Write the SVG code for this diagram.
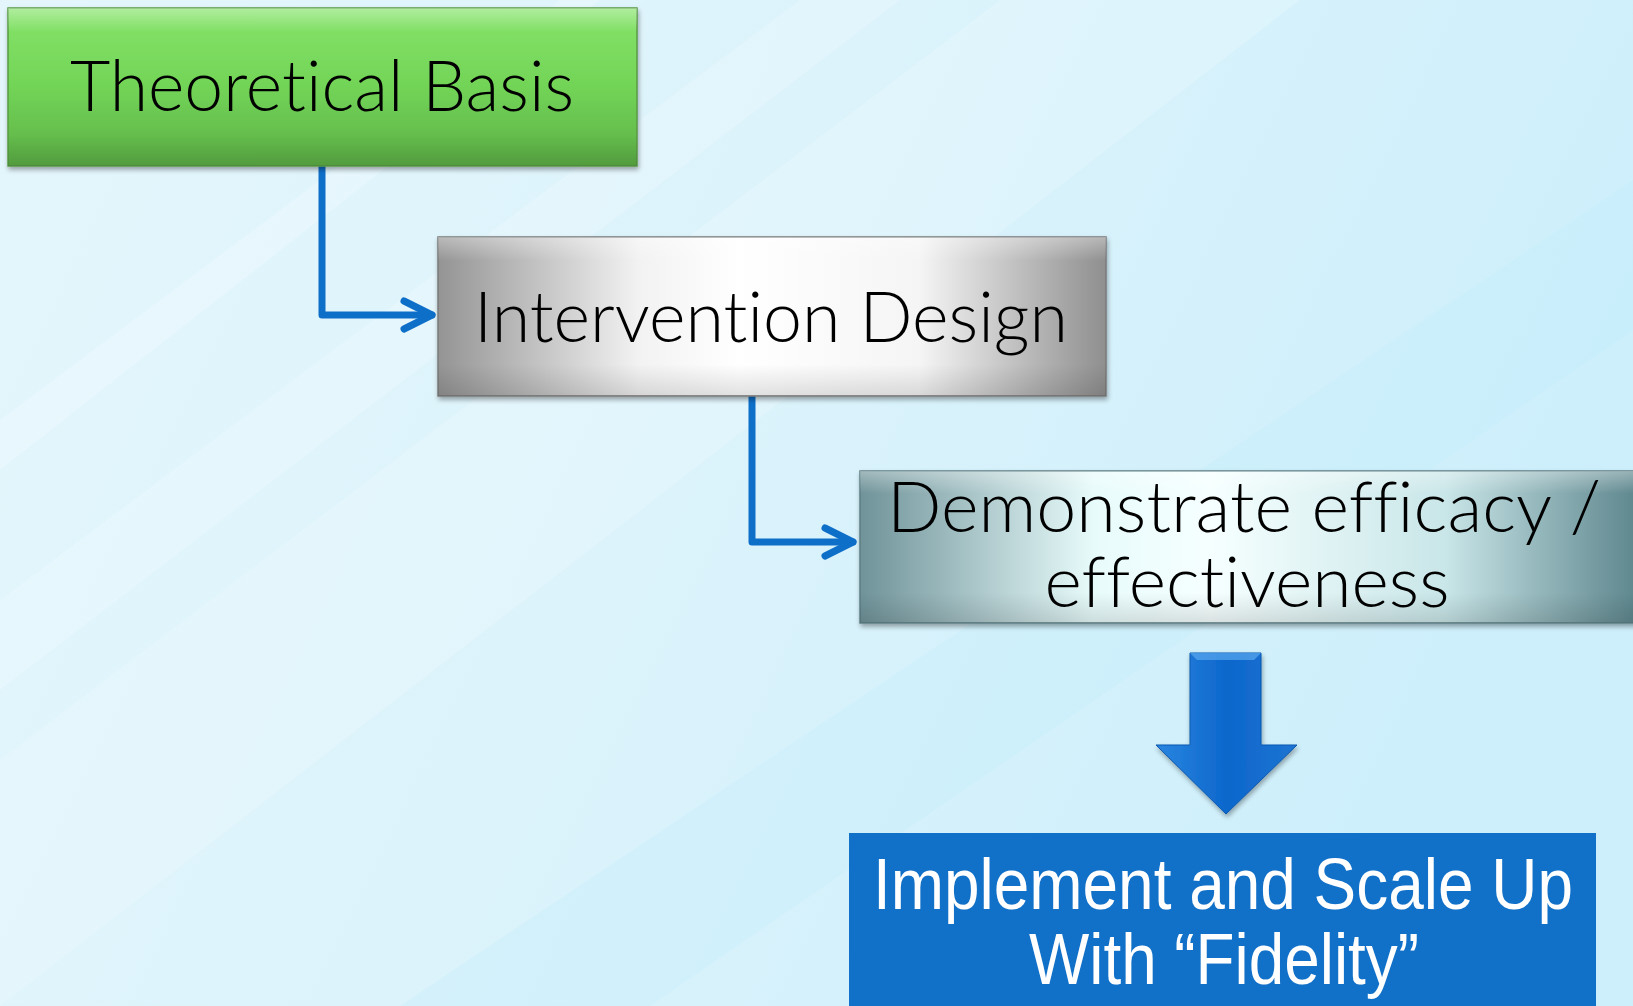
<svg xmlns="http://www.w3.org/2000/svg" width="1633" height="1006" viewBox="0 0 1633 1006">
<defs>
<style>
.lbl{font-family:Lato,"Open Sans",sans-serif;font-weight:300;fill:#000;font-variant-ligatures:none;}
.wlbl{font-family:"Liberation Sans",Arial,sans-serif;fill:#fff;}
.conn{fill:none;stroke:#0e6fc9;stroke-width:7;stroke-linejoin:round;stroke-linecap:round;}
</style>
<linearGradient id="bg" x1="0" y1="0" x2="1" y2="0.3">
<stop offset="0" stop-color="#e4f6fc"/>
<stop offset="0.5" stop-color="#dcf3fb"/>
<stop offset="1" stop-color="#cdeffb"/>
</linearGradient>
<linearGradient id="green" x1="0" y1="0" x2="0" y2="1">
<stop offset="0" stop-color="#86e46a"/>
<stop offset="0.5" stop-color="#72d457"/>
<stop offset="1" stop-color="#5db046"/>
</linearGradient>
<linearGradient id="gray" x1="0" y1="0" x2="1" y2="0">
<stop offset="0" stop-color="#949494"/>
<stop offset="0.3" stop-color="#f2f2f2"/>
<stop offset="0.45" stop-color="#ffffff"/>
<stop offset="0.72" stop-color="#f5f5f5"/>
<stop offset="1" stop-color="#8f8f8f"/>
</linearGradient>
<linearGradient id="teal" x1="0" y1="0" x2="1" y2="0">
<stop offset="0" stop-color="#6f9399"/>
<stop offset="0.3" stop-color="#e8fbfb"/>
<stop offset="0.45" stop-color="#f6ffff"/>
<stop offset="0.75" stop-color="#c9e6e8"/>
<stop offset="1" stop-color="#5c858c"/>
</linearGradient>
<linearGradient id="vshade" x1="0" y1="0" x2="0" y2="1">
<stop offset="0" stop-color="#fff" stop-opacity="0.35"/>
<stop offset="0.15" stop-color="#fff" stop-opacity="0"/>
<stop offset="0.8" stop-color="#000" stop-opacity="0"/>
<stop offset="1" stop-color="#000" stop-opacity="0.12"/>
</linearGradient>
<linearGradient id="blueArrow" x1="0" y1="0" x2="1" y2="0">
<stop offset="0" stop-color="#2a86e0"/>
<stop offset="0.5" stop-color="#0d67cc"/>
<stop offset="1" stop-color="#1d74d2"/>
</linearGradient>
<filter id="sh" x="-5%" y="-10%" width="110%" height="130%">
<feGaussianBlur in="SourceAlpha" stdDeviation="2.5"/>
<feOffset dx="1" dy="3" result="b"/>
<feComponentTransfer><feFuncA type="linear" slope="0.35"/></feComponentTransfer>
<feMerge><feMergeNode/><feMergeNode in="SourceGraphic"/></feMerge>
</filter>
<marker id="chev" markerUnits="userSpaceOnUse" markerWidth="40" markerHeight="40" viewBox="-34 -20 40 40" refX="0" refY="0" orient="auto">
<path d="M-28,-14 L0,0 L-28,14" fill="none" stroke="#0e6fc9" stroke-width="7" stroke-linecap="round" stroke-linejoin="round"/>
</marker>
</defs>

<rect width="1633" height="1006" fill="url(#bg)"/>
<g opacity="0.5">
<path d="M0,760 L1000,0 L1300,0 L0,1006 Z" fill="#f2fbfe" opacity="0.5"/>
<path d="M0,600 L800,0 L900,0 L0,690 Z" fill="#f5fcff" opacity="0.5"/>
<path d="M400,1006 L1633,180 L1633,330 L650,1006 Z" fill="#c2edfb" opacity="0.6"/>
<path d="M0,420 L560,0 L600,0 L0,470 Z" fill="#ffffff" opacity="0.4"/>
</g>

<g id="connectors">
<path class="conn" d="M322,167 V315 H432" marker-end="url(#chev)"/>
<path class="conn" d="M752,396 V542 H853" marker-end="url(#chev)"/>
</g>

<g id="theoretical-basis">
<rect x="8" y="8" width="629" height="158" fill="url(#green)" stroke="#5a9a45" stroke-width="1.5" filter="url(#sh)"/>
<rect x="8" y="8" width="629" height="158" fill="url(#vshade)"/>
<text class="lbl" x="322" y="111" font-size="70" text-anchor="middle" textLength="504" lengthAdjust="spacingAndGlyphs">Theoretical Basis</text>
</g>

<g id="intervention-design">
<rect x="438" y="237" width="668" height="159" fill="url(#gray)" stroke="#7a7a7a" stroke-width="1.5" filter="url(#sh)"/>
<rect x="438" y="237" width="668" height="159" fill="url(#vshade)"/>
<text class="lbl" x="771" y="342" font-size="70" text-anchor="middle" textLength="594" lengthAdjust="spacingAndGlyphs">Intervention Design</text>
</g>

<g id="demonstrate">
<rect x="860" y="471" width="780" height="152" fill="url(#teal)" stroke="#5e7f85" stroke-width="1.5" filter="url(#sh)"/>
<rect x="860" y="471" width="780" height="152" fill="url(#vshade)"/>
<text class="lbl" x="1244" y="532" font-size="70" text-anchor="middle" textLength="714" lengthAdjust="spacingAndGlyphs">Demonstrate efficacy /</text>
<text class="lbl" x="1247" y="607" font-size="70" text-anchor="middle" textLength="405" lengthAdjust="spacingAndGlyphs">effectiveness</text>
</g>

<g id="down-arrow">
<path d="M1190,653 H1261 V745 H1297 L1226,814 L1156,745 H1190 Z" fill="url(#blueArrow)" stroke="#0b58b0" stroke-width="1" filter="url(#sh)"/>
<path d="M1190,653 H1261 L1254,660 H1197 Z" fill="#5aa8f0" opacity="0.7"/>
</g>

<g id="implement">
<rect x="849" y="833" width="747" height="180" fill="#1170c8"/>
<text class="wlbl" x="1223" y="909" font-size="72" text-anchor="middle" textLength="700" lengthAdjust="spacingAndGlyphs">Implement and Scale Up</text>
<text class="wlbl" x="1224" y="984" font-size="72" text-anchor="middle" textLength="390" lengthAdjust="spacingAndGlyphs">With “Fidelity”</text>
</g>
</svg>
